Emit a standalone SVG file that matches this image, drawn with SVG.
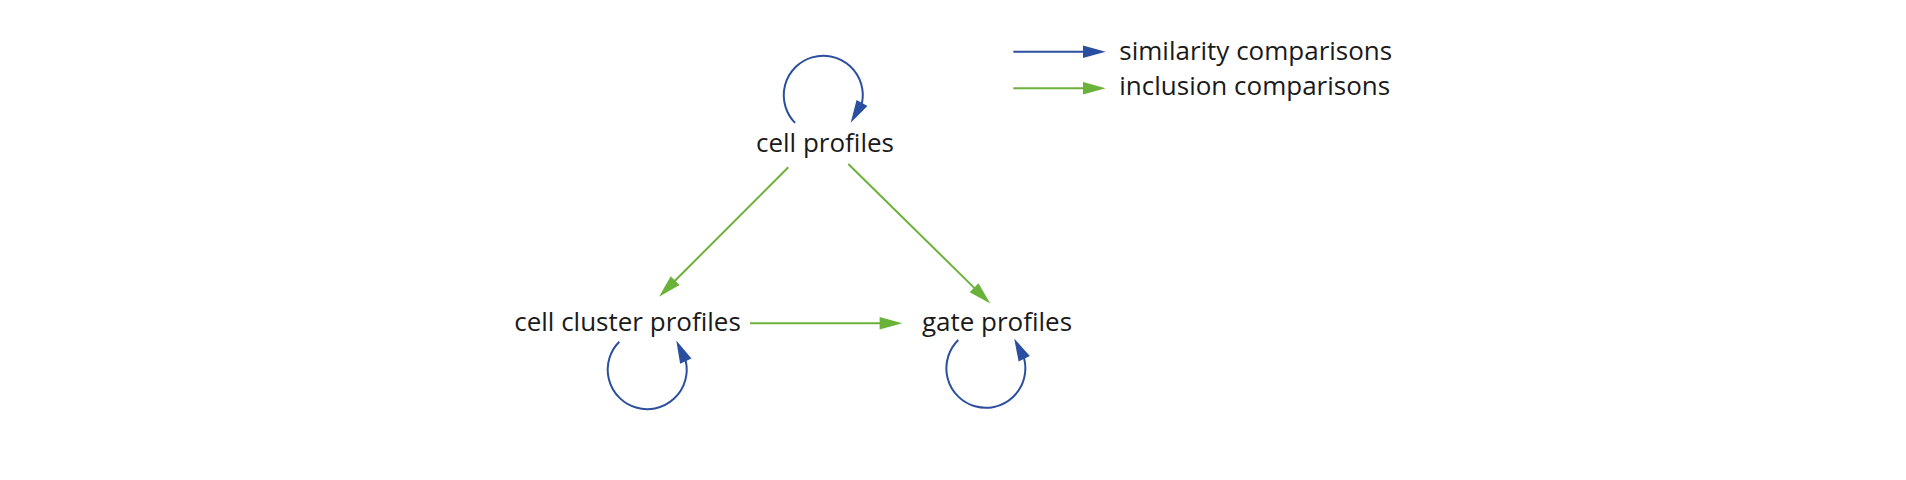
<svg xmlns="http://www.w3.org/2000/svg" width="1906" height="480" viewBox="0 0 1906 480">
  <style>
    .lbl { font-family: "Open Sans", "Noto Sans", "DejaVu Sans", sans-serif; font-size: 26px; fill: #1a1a1a; }
    .node { text-anchor: middle; }
    .sim { fill: none; stroke: #2B4FA0; stroke-width: 2; }
    .inc { fill: none; stroke: #6BB23A; stroke-width: 2; }
  </style>
  <defs>
    <marker id="ahBlue" markerUnits="userSpaceOnUse" markerWidth="24" markerHeight="14" refX="1" refY="6.25" orient="auto" overflow="visible">
      <path d="M0,0 L22.7,6.25 L0,12.5 z" fill="#2B4FA0"/>
    </marker>
    <marker id="ahGreen" markerUnits="userSpaceOnUse" markerWidth="24" markerHeight="14" refX="1" refY="6.25" orient="auto" overflow="visible">
      <path d="M0,0 L22.7,6.25 L0,12.5 z" fill="#6BB23A"/>
    </marker>
  </defs>
  <rect width="1906" height="480" fill="#ffffff"/>

  <g id="connectors">
    <path class="sim" d="M795.1,122.9 A39.5,39.5 0 1 1 862,103 l-0.5,0.87" marker-end="url(#ahBlue)"/>
    <path class="sim" d="M619.3,341.7 A39.5,39.5 0 1 0 685.8,361.2 l-0.42,-0.91" marker-end="url(#ahBlue)"/>
    <path class="sim" d="M958.3,340 A39.5,39.5 0 1 0 1024.2,358.8 l-0.44,-0.9" marker-end="url(#ahBlue)"/>
    <line class="inc" x1="788.3" y1="167.3" x2="674.4" y2="281.3" marker-end="url(#ahGreen)"/>
    <line class="inc" x1="848.3" y1="164" x2="974.8" y2="288.4" marker-end="url(#ahGreen)"/>
    <line class="inc" x1="750" y1="323.3" x2="880.6" y2="323.3" marker-end="url(#ahGreen)"/>
  </g>

  <g id="node-cell-profiles">
    <text class="lbl node" x="825" y="152">cell profiles</text>
  </g>
  <g id="node-cell-cluster-profiles">
    <text class="lbl node" x="627.5" y="331">cell cluster profiles</text>
  </g>
  <g id="node-gate-profiles">
    <text class="lbl node" x="997" y="331">gate profiles</text>
  </g>

  <g id="legend">
    <line class="sim" x1="1013.3" y1="51.7" x2="1084" y2="51.7" marker-end="url(#ahBlue)"/>
    <text class="lbl" x="1119.3" y="59.5">similarity comparisons</text>
    <line class="inc" x1="1013.3" y1="88.3" x2="1084" y2="88.3" marker-end="url(#ahGreen)"/>
    <text class="lbl" x="1119.3" y="95">inclusion comparisons</text>
  </g>
</svg>
